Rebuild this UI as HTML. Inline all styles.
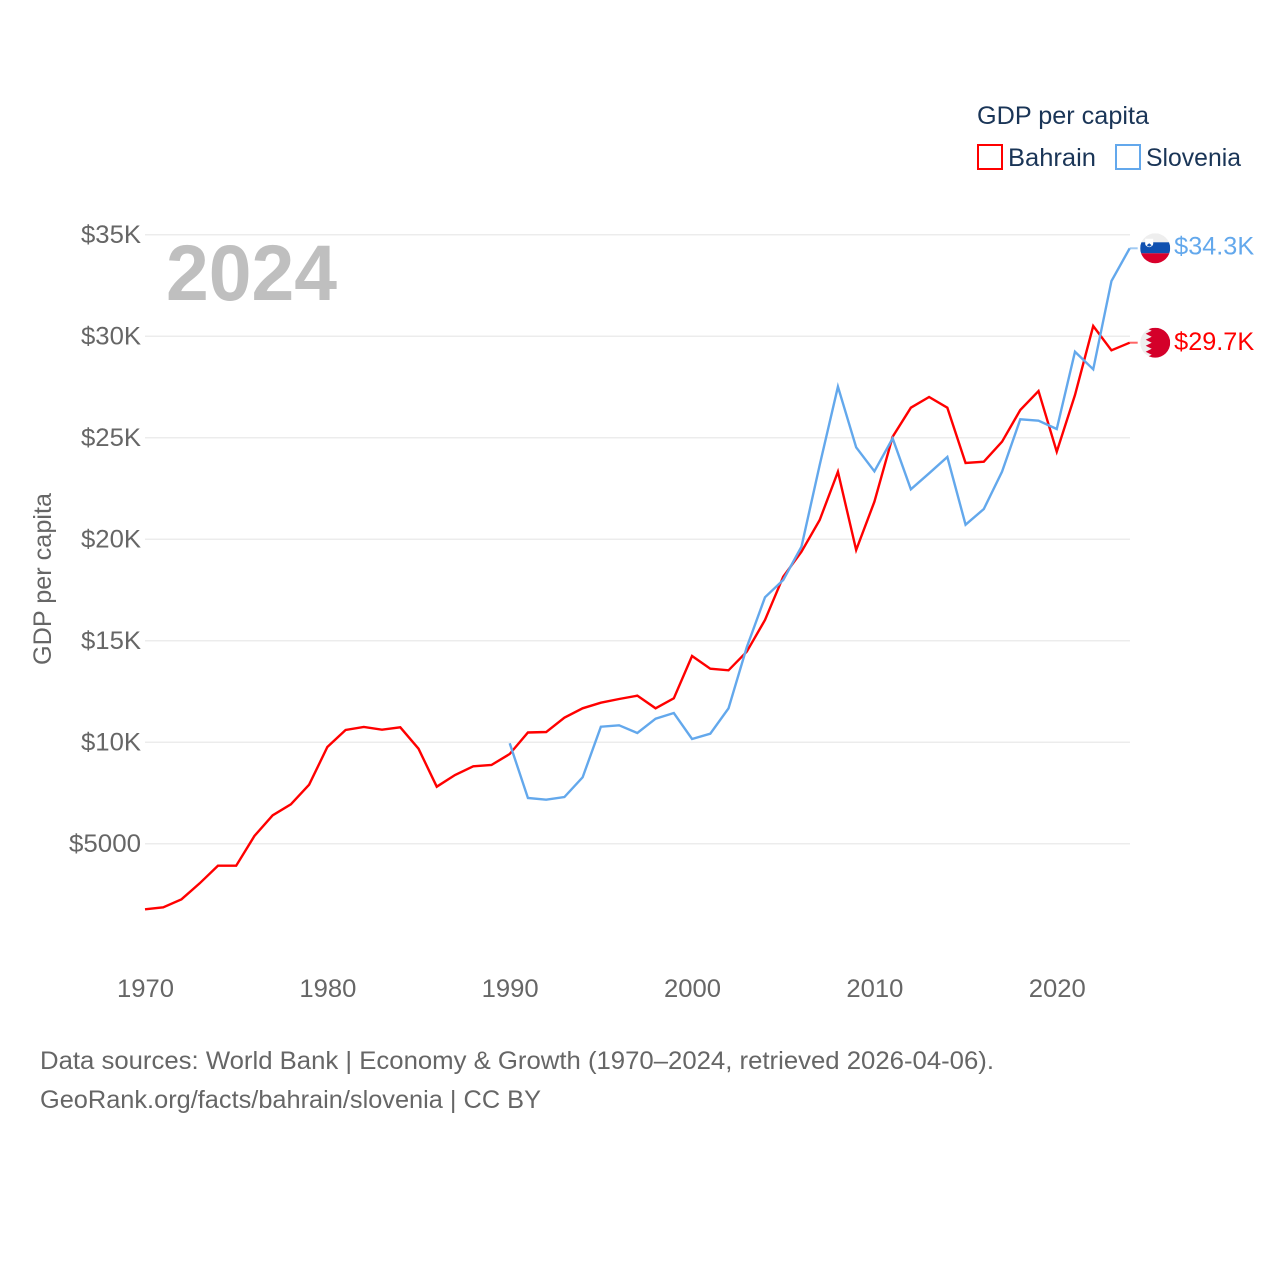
<!DOCTYPE html>
<html lang="en">
<head>
<meta charset="utf-8">
<title>GDP per capita: Bahrain and Slovenia</title>
<style>
html,body{margin:0;padding:0;background:#fff;}
svg{display:block;}
text{font-family:"Liberation Sans",Arial,sans-serif;}
</style>
</head>
<body>
<svg id="chart" xmlns="http://www.w3.org/2000/svg" width="1280" height="1280" viewBox="0 0 1280 1280">
  <defs>
    <clipPath id="flag-clip-top"><circle cx="0" cy="0" r="15"></circle></clipPath>
  </defs>
  <g id="grid"></g>
  <g id="y-axis"></g>
  <g id="x-axis"></g>
  <text x="166" y="300" font-size="79" font-weight="700" fill="#bfbfbf" textLength="171" lengthAdjust="spacingAndGlyphs">2024</text>
  <text transform="translate(51,665) rotate(-90)" font-size="25" fill="#666" textLength="172" lengthAdjust="spacingAndGlyphs">GDP per capita</text>
  <g id="series"></g>
  <g id="flag-slovenia" clip-path="url(#flag-clip-top)">
    <rect x="-15" y="-15" width="30" height="30" fill="#eeeeee"></rect>
    <rect x="-15" y="-6" width="30" height="11" fill="#0f50b0"></rect>
    <rect x="-15" y="5" width="30" height="11" fill="#d9002c"></rect>
    <path d="M-10,-9.500 h8 v5 q0,2.500 -4,3.500 q-4,-1 -4,-3.500 z" fill="#ffffff"></path>
    <path d="M-8.500,-3 l2.500,-2 l2.500,2 l-2.500,1.500 z" fill="#0f50b0"></path>
  </g>
  <g id="flag-bahrain" clip-path="url(#flag-clip-top)">
    <rect x="-15" y="-15" width="30" height="30" fill="#eeeeee"></rect>
    <path d="M-9.500,-15 L-3.500,-12 L-9.500,-9 L-3.500,-6 L-9.500,-3 L-3.500,0 L-9.500,3 L-3.500,6 L-9.500,9 L-3.500,12 L-9.500,15 L15,15 L15,-15 Z" fill="#d4002a"></path>
  </g>
  <g id="legend">
    <text x="977" y="124" font-size="25" fill="#1a3557" textLength="172" lengthAdjust="spacingAndGlyphs">GDP per capita</text>
    <rect x="978" y="145" width="24" height="24" fill="#fff" stroke="#ff0000" stroke-width="2"></rect>
    <text x="1008" y="166" font-size="25" fill="#1a3557" textLength="88" lengthAdjust="spacingAndGlyphs">Bahrain</text>
    <rect x="1116" y="145" width="24" height="24" fill="#fff" stroke="#63a8ec" stroke-width="2"></rect>
    <text x="1146" y="166" font-size="25" fill="#1a3557" textLength="95" lengthAdjust="spacingAndGlyphs">Slovenia</text>
  </g>
  <g>
    <text x="40" y="1069" font-size="25" fill="#666" textLength="954" lengthAdjust="spacingAndGlyphs">Data sources: World Bank | Economy &amp; Growth (1970–2024, retrieved 2026-04-06).</text>
    <text x="40" y="1108" font-size="25" fill="#666" textLength="501" lengthAdjust="spacingAndGlyphs">GeoRank.org/facts/bahrain/slovenia | CC BY</text>
  </g>
</svg>
<script>
const yTickValues = [5000, 10000, 15000, 20000, 25000, 30000, 35000];
const yTickLabels = ["$5000", "$10K", "$15K", "$20K", "$25K", "$30K", "$35K"];
const xTickYears = [1970, 1980, 1990, 2000, 2010, 2020];
const bahrainStartYear = 1970;
const bahrainValues = [1773, 1872, 2266, 3054, 3921, 3921, 5384, 6404, 6946, 7911, 9768, 10606, 10754, 10621, 10739, 9685, 7813, 8389, 8818, 8882, 9424, 10483, 10507, 11212, 11675, 11951, 12133, 12296, 11675, 12167, 14251, 13626, 13547, 14463, 16025, 18158, 19389, 20951, 23330, 19473, 21852, 25054, 26483, 27010, 26483, 23759, 23823, 24808, 26369, 27305, 24315, 27108, 30507, 29310, 29685];
const sloveniaStartYear = 1990;
const sloveniaValues = [9951, 7256, 7172, 7305, 8276, 10768, 10837, 10458, 11163, 11443, 10163, 10424, 11675, 14680, 17143, 17995, 19635, 23660, 27517, 24532, 23350, 24975, 22463, 23251, 24054, 20719, 21493, 23330, 25911, 25842, 25433, 29241, 28374, 32724, 34335];

const NS = "http://www.w3.org/2000/svg";
function xScale(year) { return 145 + (year - 1970) * 18.235; }
function yScale(value) { return 945.3 - value * 0.0203; }
function make(tag, attrs, parent, content) {
  const el = document.createElementNS(NS, tag);
  for (const k in attrs) el.setAttribute(k, attrs[k]);
  if (content !== undefined) el.textContent = content;
  parent.appendChild(el);
  return el;
}
function formatK(v) { return "$" + (v / 1000).toFixed(1) + "K"; }

const gridG = document.getElementById("grid");
const yG = document.getElementById("y-axis");
yTickValues.forEach(function (v, i) {
  const y = yScale(v);
  const line = make("line", { x1: 145, x2: 1130, y1: y, y2: y, stroke: "#ececec", "stroke-width": 1.5 }, gridG);
  
  
  const label = yTickLabels[i];
  const len = label.length === 5 ? 72 : 60;
  const t = make("text", { x: 141 - len, y: y + 8, "font-size": 25, fill: "#666", textLength: len, lengthAdjust: "spacingAndGlyphs" }, yG, label);
  
  
});

const xG = document.getElementById("x-axis");
xTickYears.forEach(function (yr) {
  const t = make("text", { x: xScale(yr) - 28, y: 997, "font-size": 25, fill: "#666", textLength: 57, lengthAdjust: "spacingAndGlyphs" }, xG, String(yr));
  
  
});

const seriesG = document.getElementById("series");
function drawSeries(values, startYear, color, name) {
  const pts = values.map(function (v, i) { return xScale(startYear + i) + "," + yScale(v); }).join(" ");
  const lastValue = values[values.length - 1];
  const lastX = xScale(startYear + values.length - 1);
  const lastY = yScale(lastValue);
  const stub = make("line", { x1: lastX, x2: lastX + 8, y1: lastY, y2: lastY, stroke: color, "stroke-width": 2, opacity: 0.6 }, seriesG);
  
  
  const line = make("polyline", { points: pts, fill: "none", stroke: color, "stroke-width": 2.4, "stroke-linejoin": "miter" }, seriesG);
  
  
  return { y: lastY, x: lastX, value: lastValue };
}
const bahrainEnd = drawSeries(bahrainValues, bahrainStartYear, "#ff0000", "bahrain");
const sloveniaEnd = drawSeries(sloveniaValues, sloveniaStartYear, "#63a8ec", "slovenia");

document.getElementById("flag-slovenia").setAttribute("transform", "translate(" + (sloveniaEnd.x + 25.5) + "," + sloveniaEnd.y + ")");
document.getElementById("flag-bahrain").setAttribute("transform", "translate(" + (bahrainEnd.x + 25.5) + "," + bahrainEnd.y + ")");

const svgRoot = document.getElementById("chart");
const sloLabel = make("text", { x: sloveniaEnd.x + 44.5, y: sloveniaEnd.y + 6, "font-size": 25, fill: "#63a8ec", textLength: 80, lengthAdjust: "spacingAndGlyphs" }, svgRoot, formatK(sloveniaEnd.value));


const bahLabel = make("text", { x: bahrainEnd.x + 44.5, y: bahrainEnd.y + 7.5, "font-size": 25, fill: "#ff0000", textLength: 80, lengthAdjust: "spacingAndGlyphs" }, svgRoot, formatK(bahrainEnd.value));


</script>
</body>
</html>
